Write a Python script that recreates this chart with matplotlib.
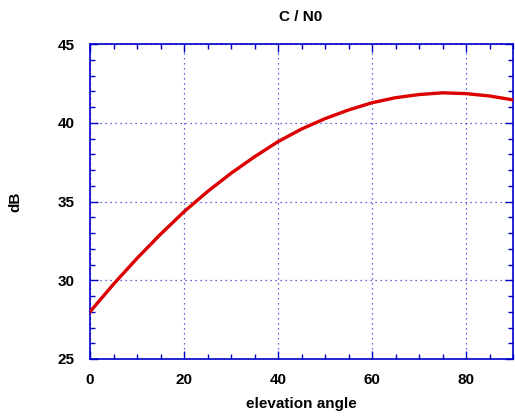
import matplotlib
matplotlib.use("Agg")
import matplotlib.pyplot as plt
from matplotlib.ticker import MultipleLocator

elev = [0, 5, 10, 15, 20, 25, 30, 35, 40, 45, 50, 55, 60, 65, 70, 75, 80, 85, 90]
cn0 = [28.0, 29.75, 31.39, 32.92, 34.35, 35.63, 36.79, 37.84, 38.8, 39.6, 40.26,
       40.81, 41.27, 41.59, 41.79, 41.9, 41.85, 41.7, 41.45]

title = "C / N0"
xlabel = "elevation angle"
ylabel = "dB"

plt.rcParams['font.family'] = ['Liberation Sans', 'DejaVu Sans']
plt.rcParams['font.weight'] = 'bold'

W, H = 515, 417
fig = plt.figure(figsize=(W / 100, H / 100), dpi=100)
ax = fig.add_axes([90 / W, 1 - 359 / H, (513 - 90) / W, (359 - 44) / H])

blue = '#0000cc'
ax.plot(elev, cn0, color='#dd0000', lw=2.4, zorder=3, solid_joinstyle='round')

ax.set_xlim(0, 90)
ax.set_ylim(25, 45)
ax.xaxis.set_major_locator(MultipleLocator(20))
ax.xaxis.set_minor_locator(MultipleLocator(5))
ax.yaxis.set_major_locator(MultipleLocator(5))
ax.yaxis.set_minor_locator(MultipleLocator(1))

ax.grid(True, which='major', color=blue, linestyle=(0, (1, 3)), lw=0.9, alpha=0.8)
for s in ax.spines.values():
    s.set_color(blue)
    s.set_linewidth(1.2)

ax.tick_params(which='both', direction='in', top=True, right=True, color=blue,
               labelsize=11)
ax.tick_params(axis='x', which='both', pad=10)
ax.tick_params(axis='y', which='both', pad=11)
ax.tick_params(which='major', length=6, width=1)
ax.tick_params(which='minor', length=3.5, width=1)
for lab in ax.get_xticklabels() + ax.get_yticklabels():
    lab.set_fontweight('bold')

fig.text(301 / W, 1 - 17 / H, title, fontsize=11, fontweight='bold',
         ha='center', va='center')
ax.set_xlabel(xlabel, fontsize=11, fontweight='bold')
ax.xaxis.set_label_coords(0.5, -(404 - 359) / 315)
ax.xaxis.label.set_va('center')
ax.set_ylabel(ylabel, fontsize=11, fontweight='bold')
ax.yaxis.set_label_coords((15 - 90) / 423, 0.5)
ax.yaxis.label.set_va('center')

fig.savefig("out.png", dpi=100)
